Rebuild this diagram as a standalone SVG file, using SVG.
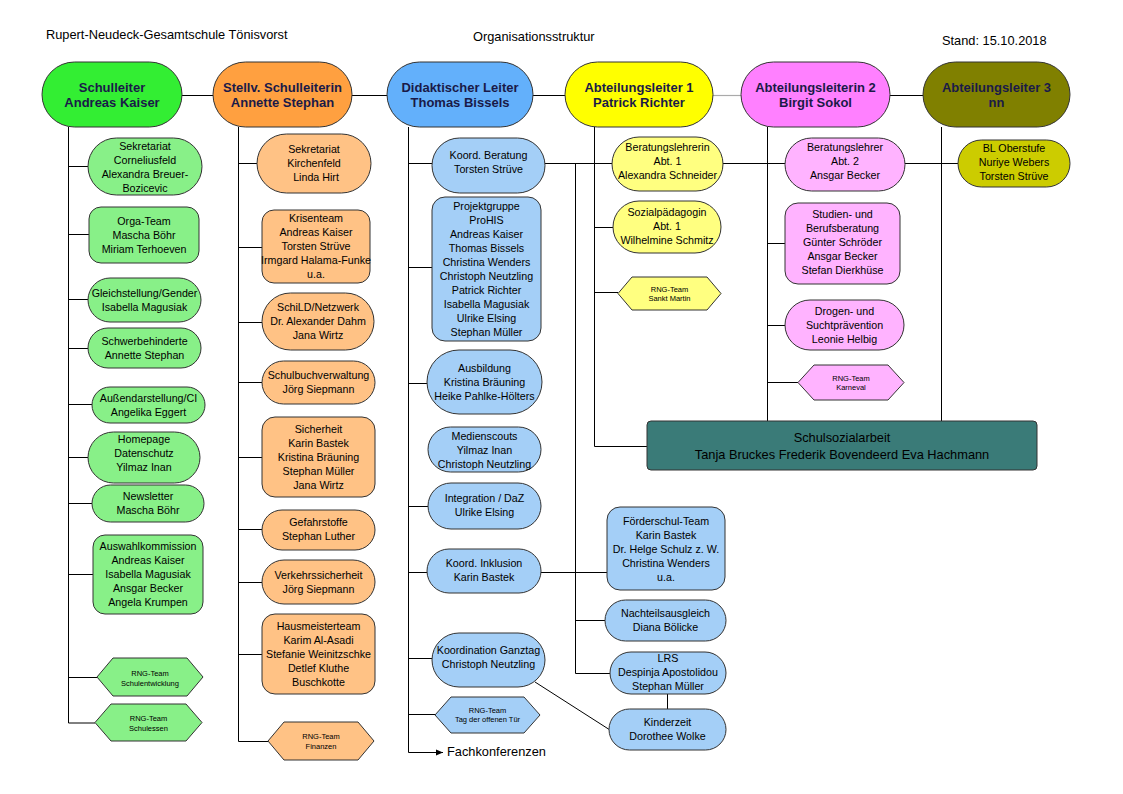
<svg xmlns="http://www.w3.org/2000/svg" width="1123" height="794" viewBox="0 0 1123 794">
<style>
.t{font-family:"Liberation Sans",Arial,sans-serif;font-size:10.7px;fill:#000;text-anchor:middle}
.h{font-family:"Liberation Sans",Arial,sans-serif;font-size:7.5px;fill:#000;text-anchor:middle}
.tp{font-family:"Liberation Sans",Arial,sans-serif;font-size:13px;font-weight:bold;fill:#1a1a48;text-anchor:middle}
.hd{font-family:"Liberation Sans",Arial,sans-serif;font-size:12.8px;fill:#000}
.b{stroke:#333;stroke-width:1}
.g{fill:#88f088}.o{fill:#ffc285}.bl{fill:#a4cff7}.y{fill:#ffff80}.p{fill:#ffb3ff}
.ln{stroke:#000;stroke-width:1;fill:none}
</style>
<defs>
<marker id="arr" markerWidth="8" markerHeight="8" refX="7" refY="4" orient="auto" markerUnits="userSpaceOnUse">
<path d="M0,1 L7,4 L0,7 Z" fill="#000"/>
</marker>
</defs>
<rect width="1123" height="794" fill="#fff"/>
<text class="hd" x="46" y="39">Rupert-Neudeck-Gesamtschule Tönisvorst</text>
<text class="hd" x="473" y="41">Organisationsstruktur</text>
<text class="hd" x="942" y="45">Stand: 15.10.2018</text>

<g id="connectors">
<path class="ln" d="M182,95.5H213 M352,95.5H387 M533,95.5H565 M890,95.5H923"/>
<path d="M713,95.5H741" stroke="#aaa" stroke-width="1.2"/>
<path class="ln" d="M68.5,127V723 M68.5,166.5H88 M68.5,234.5H89 M68.5,299.5H88 M68.5,348.5H88 M68.5,404.5H92 M68.5,457.5H88 M68.5,503.5H92 M68.5,574.5H93 M68.5,677.5H97 M68.5,723H95"/>
<path class="ln" d="M238.5,127V741.5 M238.5,163.5H257 M238.5,247.5H262 M238.5,322.5H262 M238.5,382.5H262 M238.5,457.5H262 M238.5,529.5H262 M238.5,582.5H262 M238.5,654.5H262 M238.5,741.5H268"/>
<path class="ln" d="M408.5,127V752.5 M408.5,163.5H432 M545,163.5H612 M723,163.5H785 M905,163.5H958 M408.5,267.5H432 M408.5,383.5H427 M408.5,506.5H428 M408.5,572.5H427 M541,572.5H607 M408.5,658.5H432 M408.5,714.5H435"/>
<path class="ln" d="M408.5,752.5H443" marker-end="url(#arr)"/>
<path class="ln" d="M575.5,163.5V673.5 M575.5,620.5H605 M575.5,673.5H610 M667.5,694V709 M535,682L610,730"/>
<path class="ln" d="M594.5,127V446.5H647 M594.5,227.5H613 M594.5,292.5H618"/>
<path class="ln" d="M767.5,127V421 M767.5,243.5H785 M767.5,325.5H785 M767.5,382.5H798"/>
<path class="ln" d="M941.5,127V421"/>
</g>

<g id="n-schulleiter"><rect class="b" x="42" y="62" width="140" height="65" rx="32.5" fill="#33ee33"/><text class="tp" x="112" y="91.5">Schulleiter</text><text class="tp" x="112" y="107">Andreas Kaiser</text></g>
<g id="n-stellv"><rect class="b" x="213" y="62" width="139" height="65" rx="32.5" fill="#ffa040"/><text class="tp" x="282.5" y="91.5">Stellv. Schulleiterin</text><text class="tp" x="282.5" y="107">Annette Stephan</text></g>
<g id="n-didakt"><rect class="b" x="387" y="62" width="146" height="65" rx="32.5" fill="#63b0fb"/><text class="tp" x="460" y="91.5">Didaktischer Leiter</text><text class="tp" x="460" y="107">Thomas Bissels</text></g>
<g id="n-abt1"><rect class="b" x="565" y="62" width="148" height="65" rx="32.5" fill="#ffff00"/><text class="tp" x="639" y="91.5">Abteilungsleiter 1</text><text class="tp" x="639" y="107">Patrick Richter</text></g>
<g id="n-abt2"><rect class="b" x="741" y="62" width="149" height="65" rx="32.5" fill="#ff80ff"/><text class="tp" x="815.5" y="91.5">Abteilungsleiterin 2</text><text class="tp" x="815.5" y="107">Birgit Sokol</text></g>
<g id="n-abt3"><rect class="b" x="923" y="62" width="147" height="65" rx="32.5" fill="#808000"/><text class="tp" x="996.5" y="91.5">Abteilungsleiter 3</text><text class="tp" x="996.5" y="107">nn</text></g>

<g id="g-sekretariat"><rect class="b g" x="88" y="138" width="114" height="57" rx="28.5"/><text class="t" x="145" y="149.5">Sekretariat</text><text class="t" x="145" y="163.5">Corneliusfeld</text><text class="t" x="145" y="177.5">Alexandra Breuer-</text><text class="t" x="145" y="191.5">Bozicevic</text></g>
<g id="g-orga"><rect class="b g" x="89" y="207" width="110" height="56" rx="12"/><text class="t" x="144" y="224.5">Orga-Team</text><text class="t" x="144" y="238.5">Mascha Böhr</text><text class="t" x="144" y="252.5">Miriam Terhoeven</text></g>
<g id="g-gleich"><rect class="b g" x="88" y="278" width="113" height="44" rx="22"/><text class="t" x="144.5" y="297">Gleichstellung/Gender</text><text class="t" x="144.5" y="311">Isabella Magusiak</text></g>
<g id="g-schwer"><rect class="b g" x="88" y="328" width="113" height="40" rx="20"/><text class="t" x="144.5" y="345">Schwerbehinderte</text><text class="t" x="144.5" y="359">Annette Stephan</text></g>
<g id="g-aussen"><rect class="b g" x="92" y="387" width="113" height="36" rx="18"/><text class="t" x="148.5" y="402">Außendarstellung/CI</text><text class="t" x="148.5" y="416">Angelika Eggert</text></g>
<g id="g-homepage"><rect class="b g" x="88" y="432" width="112" height="51" rx="25.5"/><text class="t" x="144" y="443">Homepage</text><text class="t" x="144" y="457">Datenschutz</text><text class="t" x="144" y="471">Yilmaz Inan</text></g>
<g id="g-newsletter"><rect class="b g" x="92" y="485" width="112" height="37" rx="18.5"/><text class="t" x="148" y="500">Newsletter</text><text class="t" x="148" y="514">Mascha Böhr</text></g>
<g id="g-auswahl"><rect class="b g" x="93" y="535" width="110" height="79" rx="12"/><text class="t" x="148" y="550">Auswahlkommission</text><text class="t" x="148" y="564">Andreas Kaiser</text><text class="t" x="148" y="578">Isabella Magusiak</text><text class="t" x="148" y="592">Ansgar Becker</text><text class="t" x="148" y="606">Angela Krumpen</text></g>
<g id="g-rng-entw"><path class="b g" d="M97,677 L113,658 L187,658 L203,677 L187,696 L113,696 Z"/><text class="h" x="150" y="676">RNG-Team</text><text class="h" x="150" y="686">Schulentwicklung</text></g>
<g id="g-rng-essen"><path class="b g" d="M95,722.5 L111,704 L186,704 L202,722.5 L186,741 L111,741 Z"/><text class="h" x="148.5" y="720.5">RNG-Team</text><text class="h" x="148.5" y="730.5">Schulessen</text></g>

<g id="o-sekretariat"><rect class="b o" x="257" y="134" width="114" height="59" rx="29.5"/><text class="t" x="314" y="153">Sekretariat</text><text class="t" x="314" y="167">Kirchenfeld</text><text class="t" x="316" y="181">Linda Hirt</text></g>
<g id="o-krisen"><rect class="b o" x="262" y="210" width="108" height="73" rx="12"/><text class="t" x="316" y="222">Krisenteam</text><text class="t" x="316" y="236">Andreas Kaiser</text><text class="t" x="316" y="250">Torsten Strüve</text><text class="t" x="316" y="264">Irmgard Halama-Funke</text><text class="t" x="316" y="278">u.a.</text></g>
<g id="o-schild"><rect class="b o" x="262" y="293" width="112" height="57" rx="28.5"/><text class="t" x="318" y="311">SchiLD/Netzwerk</text><text class="t" x="318" y="325">Dr. Alexander Dahm</text><text class="t" x="318" y="339">Jana Wirtz</text></g>
<g id="o-schulbuch"><rect class="b o" x="262" y="361" width="113" height="43" rx="21.5"/><text class="t" x="318.5" y="379">Schulbuchverwaltung</text><text class="t" x="318.5" y="393">Jörg Siepmann</text></g>
<g id="o-sicherheit"><rect class="b o" x="262" y="417" width="113" height="80" rx="13"/><text class="t" x="318.5" y="433">Sicherheit</text><text class="t" x="318.5" y="447">Karin Bastek</text><text class="t" x="318.5" y="461">Kristina Bräuning</text><text class="t" x="318.5" y="475">Stephan Müller</text><text class="t" x="318.5" y="489">Jana Wirtz</text></g>
<g id="o-gefahr"><rect class="b o" x="262" y="510" width="113" height="40" rx="20"/><text class="t" x="318.5" y="526">Gefahrstoffe</text><text class="t" x="318.5" y="540">Stephan Luther</text></g>
<g id="o-verkehr"><rect class="b o" x="262" y="560" width="113" height="44" rx="22"/><text class="t" x="318.5" y="579">Verkehrssicherheit</text><text class="t" x="318.5" y="593">Jörg Siepmann</text></g>
<g id="o-hausmeister"><rect class="b o" x="262" y="614" width="113" height="80" rx="13"/><text class="t" x="318.5" y="630">Hausmeisterteam</text><text class="t" x="318.5" y="644">Karim Al-Asadi</text><text class="t" x="318.5" y="658">Stefanie Weinitzschke</text><text class="t" x="318.5" y="672">Detlef Kluthe</text><text class="t" x="318.5" y="686">Buschkotte</text></g>
<g id="o-rng-fin"><path class="b o" d="M268,741 L284,722 L358,722 L374,741 L358,760 L284,760 Z"/><text class="h" x="321" y="739">RNG-Team</text><text class="h" x="321" y="749">Finanzen</text></g>

<g id="b-beratung"><rect class="b bl" x="432" y="138" width="113" height="55" rx="27.5"/><text class="t" x="488.5" y="159">Koord. Beratung</text><text class="t" x="488.5" y="173">Torsten Strüve</text></g>
<g id="b-prohis"><rect class="b bl" x="432" y="197" width="109" height="144" rx="13"/><text class="t" x="486.5" y="210">Projektgruppe</text><text class="t" x="486.5" y="224">ProHIS</text><text class="t" x="486.5" y="238">Andreas Kaiser</text><text class="t" x="486.5" y="252">Thomas Bissels</text><text class="t" x="486.5" y="266">Christina Wenders</text><text class="t" x="486.5" y="280">Christoph Neutzling</text><text class="t" x="486.5" y="294">Patrick Richter</text><text class="t" x="486.5" y="308">Isabella Magusiak</text><text class="t" x="486.5" y="322">Ulrike Elsing</text><text class="t" x="486.5" y="336">Stephan Müller</text></g>
<g id="b-ausbildung"><rect class="b bl" x="427" y="350" width="115" height="64" rx="32"/><text class="t" x="484.5" y="372">Ausbildung</text><text class="t" x="484.5" y="386">Kristina Bräuning</text><text class="t" x="484.5" y="400">Heike Pahlke-Hölters</text></g>
<g id="b-medien"><rect class="b bl" x="428" y="427" width="113" height="45" rx="22.5"/><text class="t" x="484.5" y="440">Medienscouts</text><text class="t" x="484.5" y="454">Yilmaz Inan</text><text class="t" x="484.5" y="468">Christoph Neutzling</text></g>
<g id="b-integration"><rect class="b bl" x="428" y="483" width="113" height="46" rx="23"/><text class="t" x="484.5" y="502">Integration / DaZ</text><text class="t" x="484.5" y="516">Ulrike Elsing</text></g>
<g id="b-inklusion"><rect class="b bl" x="427" y="549" width="114" height="44" rx="22"/><text class="t" x="484" y="567">Koord. Inklusion</text><text class="t" x="484" y="581">Karin Bastek</text></g>
<g id="b-ganztag"><rect class="b bl" x="432" y="633" width="113" height="54" rx="27"/><text class="t" x="488.5" y="654">Koordination Ganztag</text><text class="t" x="488.5" y="668">Christoph Neutzling</text></g>
<g id="b-rng-tag"><path class="b bl" d="M435,715 L451,697 L524,697 L540,715 L524,733 L451,733 Z"/><text class="h" x="487.5" y="713">RNG-Team</text><text class="h" x="487.5" y="722">Tag der offenen Tür</text></g>
<g id="b-fachkonf"><text class="hd" x="447" y="756">Fachkonferenzen</text></g>

<g id="b-foerder"><rect class="b bl" x="607" y="507" width="118" height="83" rx="13"/><text class="t" x="666" y="525">Förderschul-Team</text><text class="t" x="666" y="539">Karin Bastek</text><text class="t" x="666" y="553">Dr. Helge Schulz z. W.</text><text class="t" x="666" y="567">Christina Wenders</text><text class="t" x="666" y="581">u.a.</text></g>
<g id="b-nachteil"><rect class="b bl" x="605" y="600" width="121" height="41" rx="20.5"/><text class="t" x="665.5" y="617">Nachteilsausgleich</text><text class="t" x="665.5" y="631">Diana Bölicke</text></g>
<g id="b-lrs"><rect class="b bl" x="610" y="652" width="116" height="42" rx="21"/><text class="t" x="668" y="662">LRS</text><text class="t" x="668" y="676">Despinja Apostolidou</text><text class="t" x="668" y="690">Stephan Müller</text></g>
<g id="b-kinderzeit"><rect class="b bl" x="609" y="709" width="117" height="41" rx="20.5"/><text class="t" x="667.5" y="726">Kinderzeit</text><text class="t" x="667.5" y="740">Dorothee Wolke</text></g>

<g id="y-beratung"><rect class="b y" x="612" y="137" width="111" height="54" rx="27"/><text class="t" x="667.5" y="151">Beratungslehrerin</text><text class="t" x="667.5" y="165">Abt. 1</text><text class="t" x="667.5" y="179">Alexandra Schneider</text></g>
<g id="y-sozial"><rect class="b y" x="613" y="201" width="108" height="52" rx="26"/><text class="t" x="667" y="216">Sozialpädagogin</text><text class="t" x="667" y="230">Abt. 1</text><text class="t" x="667" y="244">Wilhelmine Schmitz</text></g>
<g id="y-rng-martin"><path class="b y" d="M618,293.5 L632,277 L707,277 L721,293.5 L707,310 L632,310 Z"/><text class="h" x="669.5" y="292">RNG-Team</text><text class="h" x="669.5" y="301">Sankt Martin</text></g>

<g id="p-beratung"><rect class="b p" x="785" y="138" width="120" height="53" rx="26.5"/><text class="t" x="845" y="151">Beratungslehrer</text><text class="t" x="845" y="165">Abt. 2</text><text class="t" x="845" y="179">Ansgar Becker</text></g>
<g id="p-studien"><rect class="b p" x="785" y="203" width="115" height="81" rx="13"/><text class="t" x="842.5" y="218">Studien- und</text><text class="t" x="842.5" y="232">Berufsberatung</text><text class="t" x="842.5" y="246">Günter Schröder</text><text class="t" x="842.5" y="260">Ansgar Becker</text><text class="t" x="842.5" y="274">Stefan Dierkhüse</text></g>
<g id="p-drogen"><rect class="b p" x="785" y="300" width="119" height="50" rx="25"/><text class="t" x="844.5" y="315">Drogen- und</text><text class="t" x="844.5" y="329">Suchtprävention</text><text class="t" x="844.5" y="343">Leonie Helbig</text></g>
<g id="p-rng-karneval"><path class="b p" d="M798,382.5 L814,365 L888,365 L904,382.5 L888,400 L814,400 Z"/><text class="h" x="851" y="381">RNG-Team</text><text class="h" x="851" y="390">Karneval</text></g>

<g id="bl-oberstufe"><rect class="b" x="958" y="140" width="112" height="47" rx="23.5" fill="#cccc00"/><text class="t" x="1014" y="152">BL Oberstufe</text><text class="t" x="1014" y="166">Nuriye Webers</text><text class="t" x="1014" y="180">Torsten Strüve</text></g>

<g id="schulsozialarbeit"><rect class="b" x="647" y="421" width="390" height="49" rx="4" fill="#3a7b78"/><text class="hd" x="842" y="442" text-anchor="middle">Schulsozialarbeit</text><text class="hd" x="842" y="459" text-anchor="middle">Tanja Bruckes Frederik Bovendeerd Eva Hachmann</text></g>
</svg>
